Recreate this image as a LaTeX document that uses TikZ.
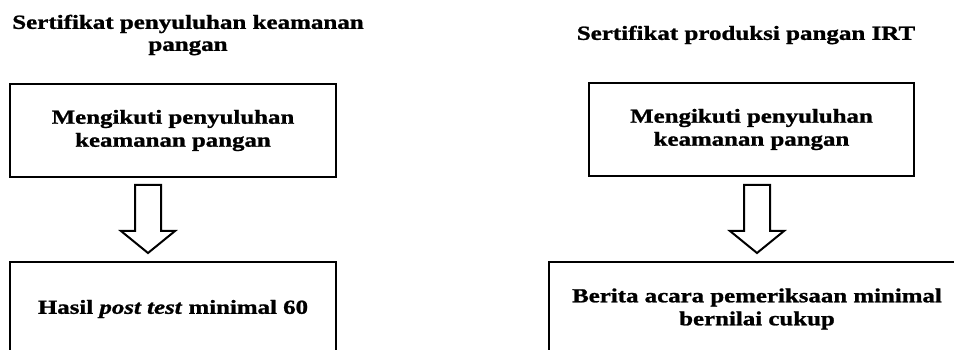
\documentclass[tikz,border=0pt]{standalone}
\usepackage{fontspec}
\setmainfont{Liberation Serif}[FakeStretch=1.25,BoldFeatures={FakeBold=1.2},BoldItalicFeatures={FakeBold=1.2}]
\begin{document}
\begin{tikzpicture}[x=1pt,y=-1pt,
  boxstyle/.style={draw,line width=2.4pt,align=center,font=\bfseries\fontsize{19.9}{23}\selectfont,inner sep=0pt},
  titlestyle/.style={align=center,font=\bfseries\fontsize{20}{22}\selectfont,inner sep=0pt},
  arrowstyle/.style={draw,line width=2pt,fill=white,line join=miter}]
\useasboundingbox (0,0) rectangle (954,350);
\clip (0,0) rectangle (954,350);
% left column
\node[titlestyle] (t1) at (188,35) {Sertifikat penyuluhan keamanan\\pangan};
\node[boxstyle,minimum width=326pt,minimum height=93pt] (a1) at (173,130.5) {Mengikuti penyuluhan\\keamanan pangan};
\node[boxstyle,minimum width=326pt,minimum height=94pt] (a2) at (173,309) {Hasil \textit{post test} minimal 60};
% right column
\node[titlestyle] (t2) at (746,35) {Sertifikat produksi pangan IRT};
\node[boxstyle,minimum width=325pt,minimum height=93pt] (b1) at (751.5,129.5) {Mengikuti penyuluhan\\keamanan pangan};
\node[boxstyle,minimum width=416pt,minimum height=94pt] (b2) at (757,309) {Berita acara pemeriksaan minimal\\bernilai cukup};
% block arrows
\coordinate (pa) at (148,253);
\draw[arrowstyle] (135,185) -- (161,185) -- (161,231) -- (175,231) -- (pa) -- (121,231) -- (135,231) -- cycle;
\coordinate (pb) at (757,253);
\draw[arrowstyle] (744,185) -- (770,185) -- (770,231) -- (784,231) -- (pb) -- (730,231) -- (744,231) -- cycle;
\end{tikzpicture}
\end{document}
